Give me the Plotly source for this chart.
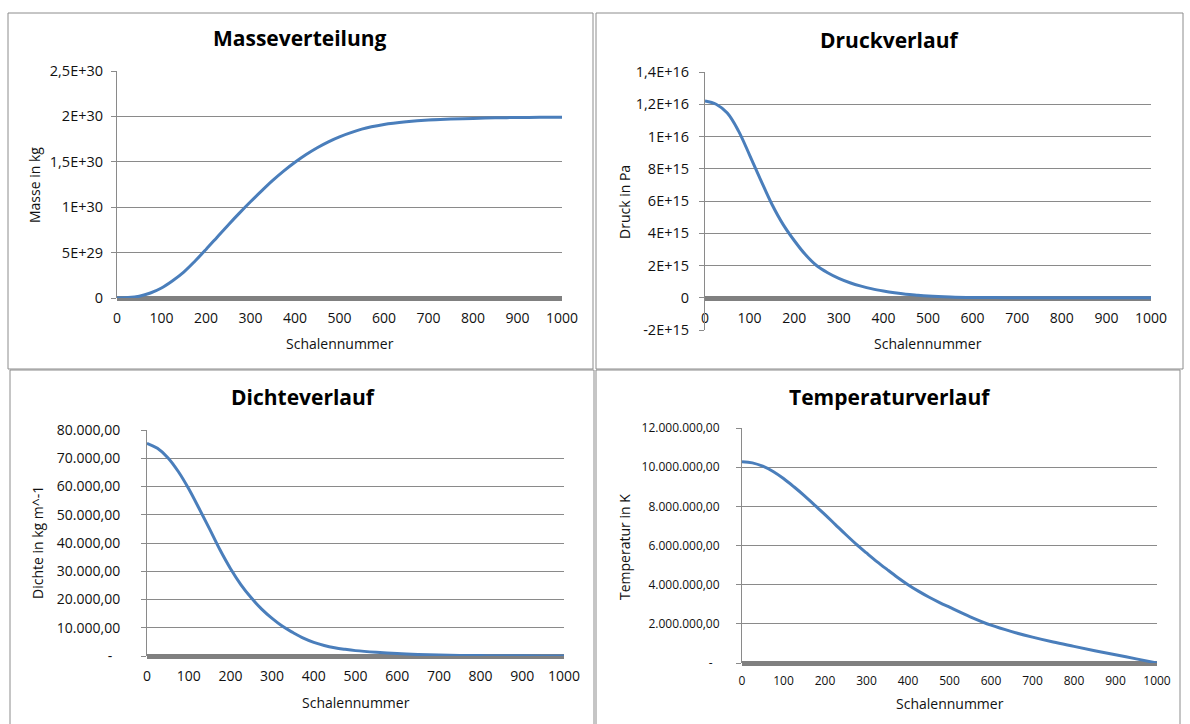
import plotly.graph_objects as go

W, H = 1190, 724
FONT = "Open Sans"
LINE = "#4a7ebb"
GRID = "#8a8a8a"
AXIS = "#8a8a8a"
BAR = "#808080"
FRAME = "#8c8c8c"

# Schalennummer (shell index)
shell = [0, 25, 50, 75, 100, 125, 150, 175, 200, 225, 250, 275, 300, 325,
         350, 375, 400, 425, 450, 475, 500, 550, 600, 650, 700, 750, 800,
         850, 900, 950, 1000]

# Masse in kg
mass = [0.0, 0.005e30, 0.02e30, 0.055e30, 0.11e30, 0.19e30, 0.285e30,
        0.405e30, 0.535e30, 0.67e30, 0.805e30, 0.935e30, 1.06e30, 1.18e30,
        1.295e30, 1.4e30, 1.495e30, 1.58e30, 1.655e30, 1.72e30, 1.775e30,
        1.86e30, 1.91e30, 1.94e30, 1.96e30, 1.97e30, 1.978e30, 1.984e30,
        1.988e30, 1.99e30, 1.99e30]

# Druck in Pa
pressure = [12.2e15, 12.0e15, 11.45e15, 10.35e15, 8.85e15, 7.3e15, 5.8e15,
            4.55e15, 3.55e15, 2.68e15, 2.0e15, 1.55e15, 1.2e15, 0.93e15,
            0.72e15, 0.55e15, 0.42e15, 0.31e15, 0.22e15, 0.16e15, 0.11e15,
            0.05e15, 0.02e15, 0.01e15, 0.005e15, 0.003e15, 0.002e15,
            0.001e15, 0.0, 0.0, 0.0]

# Dichte in kg m^-1
density = [75300, 73500, 70200, 65300, 59200, 52200, 45000, 37600, 31000,
           25300, 20600, 16600, 13300, 10500, 8300, 6300, 4800, 3700, 2900,
           2350, 1900, 1300, 850, 550, 350, 220, 140, 80, 50, 20, 0]

# Temperatur in K
temperature = [10.28e6, 10.22e6, 10.05e6, 9.78e6, 9.42e6, 9.0e6, 8.55e6,
               8.06e6, 7.58e6, 7.07e6, 6.56e6, 6.07e6, 5.62e6, 5.18e6,
               4.77e6, 4.37e6, 4.0e6, 3.67e6, 3.37e6, 3.1e6, 2.85e6, 2.36e6,
               1.93e6, 1.6e6, 1.32e6, 1.07e6, 0.85e6, 0.63e6, 0.42e6, 0.21e6,
               0.0]

x_ticks = [0, 100, 200, 300, 400, 500, 600, 700, 800, 900, 1000]
x_ticktext = [str(v) for v in x_ticks]

mass_ticks = [0, 0.5e30, 1.0e30, 1.5e30, 2.0e30, 2.5e30]
mass_ticktext = ["0", "5E+29", "1E+30", "1,5E+30", "2E+30", "2,5E+30"]

pressure_ticks = [-2e15, 0, 2e15, 4e15, 6e15, 8e15, 10e15, 12e15, 14e15]
pressure_ticktext = ["-2E+15", "0", "2E+15", "4E+15", "6E+15", "8E+15",
                     "1E+16", "1,2E+16", "1,4E+16"]

density_ticks = [0, 10000, 20000, 30000, 40000, 50000, 60000, 70000, 80000]
density_ticktext = ["-\u2007", "10.000,00", "20.000,00", "30.000,00", "40.000,00",
                    "50.000,00", "60.000,00", "70.000,00", "80.000,00"]

temperature_ticks = [0, 2e6, 4e6, 6e6, 8e6, 10e6, 12e6]
temperature_ticktext = ["-\u2007", "2.000.000,00", "4.000.000,00", "6.000.000,00",
                        "8.000.000,00", "10.000.000,00", "12.000.000,00"]

titles = ["Masseverteilung", "Druckverlauf", "Dichteverlauf", "Temperaturverlauf"]
y_titles = ["Masse in kg", "Druck in Pa", "Dichte in kg m^-1", "Temperatur in K"]
x_title = "Schalennummer"


def px_x(v):
    return v / W


def px_y(v):
    return 1 - v / H


# plot areas in pixels: (left, right, top, bottom)
areas = [(117, 562, 71, 298), (705, 1151, 72, 330),
         (147, 564, 430, 656), (742, 1157, 428, 663)]
series = [mass, pressure, density, temperature]
y_ranges = [[0, 2.5e30], [-2e15, 14e15], [0, 80000], [0, 12e6]]
y_tick_sets = [(mass_ticks, mass_ticktext, 14.5),
               (pressure_ticks, pressure_ticktext, 14.5),
               (density_ticks, density_ticktext, 14),
               (temperature_ticks, temperature_ticktext, 12)]
x_font = [14, 14, 14, 12]
y_standoff = [5, 7, 18, 14]

fig = go.Figure()
layout = {}
for i, (vals, (l, r, t, b)) in enumerate(zip(series, areas)):
    n = "" if i == 0 else str(i + 1)
    fig.add_trace(go.Scatter(
        x=shell, y=vals, mode="lines",
        line=dict(color=LINE, width=3, shape="spline", smoothing=1.0),
        xaxis="x" + n, yaxis="y" + n, showlegend=False, hoverinfo="x+y"))

    ydom = [px_y(b), px_y(t)]
    y0, y1 = y_ranges[i]
    zero_pos = ydom[0] + (0 - y0) / (y1 - y0) * (ydom[1] - ydom[0])
    tv, tt, fs = y_tick_sets[i]

    layout["xaxis" + n] = dict(
        domain=[px_x(l), px_x(r)], range=[0, 1000], automargin=False,
        tickvals=x_ticks, ticktext=x_ticktext,
        showgrid=False, zeroline=False, ticks="",
        showline=True, linewidth=5, linecolor=BAR, layer="below traces",
        tickfont=dict(family=FONT, size=x_font[i], color="#111"),
        ticklabelstandoff=5,
        anchor="free", position=zero_pos,
    )
    layout["yaxis" + n] = dict(
        domain=ydom, range=[y0, y1], anchor="x" + n, automargin=False,
        tickvals=tv, ticktext=tt,
        showgrid=True, gridcolor=GRID, gridwidth=1, zeroline=False,
        showline=True, linewidth=1, linecolor=AXIS,
        ticks="outside", ticklen=5, tickcolor=AXIS, tickwidth=1,
        ticklabelstandoff=y_standoff[i],
        tickfont=dict(family=FONT, size=fs, color="#111"),
    )

annotations = []
title_pos = [(300, 38), (889, 40), (303, 397), (890, 397)]
for txt, (x, y) in zip(titles, title_pos):
    annotations.append(dict(text="<b>" + txt + "</b>", x=px_x(x), y=px_y(y),
                            xref="paper", yref="paper", showarrow=False,
                            xanchor="center", yanchor="middle",
                            font=dict(family=FONT, size=21, color="#000")))

ytitle_pos = [(34, 185), (624, 202), (37, 543), (624, 547)]
for txt, (x, y) in zip(y_titles, ytitle_pos):
    annotations.append(dict(text=txt, x=px_x(x), y=px_y(y), textangle=-90,
                            xref="paper", yref="paper", showarrow=False,
                            xanchor="center", yanchor="middle",
                            font=dict(family=FONT, size=14, color="#111")))

xtitle_y = [343, 343, 702, 703]
for (l, r, t, b), y in zip(areas, xtitle_y):
    annotations.append(dict(text=x_title, x=px_x((l + r) / 2), y=px_y(y),
                            xref="paper", yref="paper", showarrow=False,
                            xanchor="center", yanchor="middle",
                            font=dict(family=FONT, size=14, color="#111")))

# panel frames; the lower panels run off the bottom edge, so only their
# top, left and right sides are drawn
shapes = []
upper_frames = [(8, 13, 593, 369), (596, 13, 1183, 369)]
for x0, y0, x1, y1 in upper_frames:
    shapes.append(dict(type="rect", xref="paper", yref="paper",
                       x0=px_x(x0), x1=px_x(x1), y0=px_y(y1), y1=px_y(y0),
                       line=dict(color=FRAME, width=1), fillcolor="rgba(0,0,0,0)",
                       layer="below"))
lower_frames = [(10, 370, 594), (596, 370, 1180)]
for x0, y0, x1 in lower_frames:
    path = "M {a},{b} L {a},{c} L {d},{c} L {d},{b}".format(
        a=px_x(x0), b=0, c=px_y(y0), d=px_x(x1))
    shapes.append(dict(type="path", xref="paper", yref="paper", path=path,
                       line=dict(color=FRAME, width=1), layer="below"))

fig.update_layout(
    width=W, height=H, margin=dict(l=0, r=0, t=0, b=0, autoexpand=False),
    paper_bgcolor="white", plot_bgcolor="white",
    annotations=annotations, shapes=shapes, showlegend=False,
    **layout,
)

fig.write_html("out.html")
